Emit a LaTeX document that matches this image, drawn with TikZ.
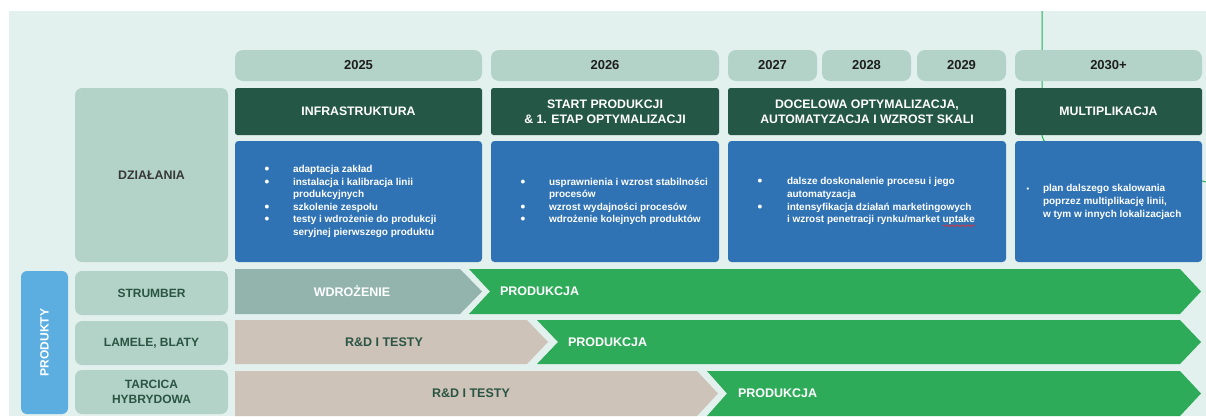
\documentclass[tikz,border=0pt]{standalone}
\usepackage{fontspec}
\setmainfont{Liberation Sans}
\usetikzlibrary{calc,decorations.pathmorphing}

\definecolor{bgc}{HTML}{E3F1EE}
\definecolor{yearc}{HTML}{B3D3C8}
\definecolor{darkc}{HTML}{255746}
\definecolor{bluec}{HTML}{2F73B5}
\definecolor{wdrc}{HTML}{92B4AC}
\definecolor{tanc}{HTML}{CEC3B8}
\definecolor{greenc}{HTML}{2EAB59}
\definecolor{linec}{HTML}{22B05A}
\definecolor{prodc}{HTML}{5DAEE0}
\definecolor{txtdark}{HTML}{2A5443}
\definecolor{yeartxt}{HTML}{1E1E1E}
\definecolor{dzialc}{HTML}{383838}
\definecolor{spellred}{HTML}{E03030}

% red wavy underline under a word
\newsavebox{\wavebox}
\newcommand{\spellwave}[1]{\sbox\wavebox{#1}\rlap{\usebox\wavebox}%
  \tikz[baseline=0pt,x=1pt,y=1pt]\draw[spellred, line width=0.6pt, decorate,
    decoration={snake, amplitude=0.9pt, segment length=3.2pt}]
    (0,-3) -- (\the\wd\wavebox,-3);}
% list bullets
\newcommand{\bigdot}{\raisebox{-1pt}{\fontsize{13.5}{13.5}\selectfont\textbullet}}
\newcommand{\smalldot}{{\fontsize{7.5}{7.5}\selectfont\textbullet}}

\tikzset{
  every node/.style={inner sep=0pt, outer sep=0pt},
  yearbox/.style={fill=yearc, rounded corners=8pt, minimum height=31pt, text=yeartxt,
    font=\fontsize{13}{15}\selectfont\bfseries},
  headbox/.style={fill=darkc, rounded corners=2.5pt, minimum height=47pt, text=white,
    align=center, font=\fontsize{12.3}{15}\selectfont\bfseries},
  bluebox/.style={fill=bluec, rounded corners=3.5pt, minimum height=121pt},
  rowlabel/.style={fill=yearc, rounded corners=7pt, minimum width=153pt, minimum height=44pt,
    text=txtdark, align=center, font=\fontsize{12}{15.5}\selectfont\bfseries},
  bullets/.style={anchor=west, text=white, align=left, font=\fontsize{10}{12.6}\selectfont\bfseries},
  barlabel/.style={font=\fontsize{12.5}{15}\selectfont\bfseries},
  lightlabel/.style={barlabel, text=white},
  darklabel/.style={barlabel, text=txtdark},
  guide/.style={draw=linec, line width=1pt},
}

\begin{document}
\begin{tikzpicture}[x=1pt,y=-1pt]
\useasboundingbox (0,0) rectangle (1206,416);
\fill[white] (0,0) rectangle (1206,416);
\fill[bgc] (9,11) rectangle (1206,416);

% thin guide line behind the boxes
\coordinate (g1) at (1042,11);
\coordinate (g2) at (1042,136);
\coordinate (g3) at (1044,141);
\coordinate (g4) at (1206,182);
\draw[guide] (g1) -- (g2) -- (g3) -- (g4);

% years
\node[yearbox, minimum width=247pt] (y2025) at (358.5,65.5) {2025};
\node[yearbox, minimum width=228pt] (y2026) at (605,65.5) {2026};
\node[yearbox, minimum width=89pt]  (y2027) at (772.5,65.5) {2027};
\node[yearbox, minimum width=89pt]  (y2028) at (866.5,65.5) {2028};
\node[yearbox, minimum width=89pt]  (y2029) at (961.5,65.5) {2029};
\node[yearbox, minimum width=187pt] (y2030) at (1108.5,65.5) {2030+};

% phase headers
\node[headbox, minimum width=247pt] (h1) at (358.5,111.5) {INFRASTRUKTURA};
\node[headbox, minimum width=228pt] (h2) at (605,111.5) {START PRODUKCJI\\\& 1. ETAP OPTYMALIZACJI};
\node[headbox, minimum width=278pt] (h3) at (867,111.5) {DOCELOWA OPTYMALIZACJA,\\AUTOMATYZACJA I WZROST SKALI};
\node[headbox, minimum width=187pt] (h4) at (1108.5,111.5) {MULTIPLIKACJA};

% activity boxes
\node[bluebox, minimum width=247pt] (b1) at (358.5,201.5) {};
\node[bluebox, minimum width=228pt] (b2) at (605,201.5) {};
\node[bluebox, minimum width=278pt] (b3) at (867,201.5) {};
\node[bluebox, minimum width=187pt] (b4) at (1108.5,201.5) {};

\node[bullets] (t1) at (264.5,201.5) {\begin{tabular}{@{}p{28.5pt}@{}l@{}}
\bigdot & adaptacja zakład\\
\bigdot & instalacja i kalibracja linii\\
 & produkcyjnych\\
\bigdot & szkolenie zespołu\\
\bigdot & testy i wdrożenie do produkcji\\
 & seryjnej pierwszego produktu
\end{tabular}};

\node[bullets] (t2) at (520.5,201.5) {\begin{tabular}{@{}p{28.5pt}@{}l@{}}
\bigdot & usprawnienia i wzrost stabilności\\
 & procesów\\
\bigdot & wzrost wydajności procesów\\
\bigdot & wdrożenie kolejnych produktów
\end{tabular}};

\node[bullets] (t3) at (757.5,201.5) {\begin{tabular}{@{}p{29.5pt}@{}l@{}}
\bigdot & dalsze doskonalenie procesu i jego\\
 & automatyzacja\\
\bigdot & intensyfikacja działań marketingowych\\
 & i wzrost penetracji rynku/market \spellwave{uptake}
\end{tabular}};

\node[bullets] (t4) at (1026.5,202) {\begin{tabular}{@{}p{16.5pt}@{}l@{}}
\smalldot & plan dalszego skalowania\\
 & poprzez multiplikację linii,\\
 & w tym w innych lokalizacjach
\end{tabular}};

% left column
\node[fill=yearc, rounded corners=7pt, minimum width=153pt, minimum height=174pt,
  text=dzialc, font=\fontsize{12.4}{15}\selectfont\bfseries] (dz) at (151.5,175) {DZIAŁANIA};
\node[fill=prodc, rounded corners=6pt, rotate=90, minimum width=143pt, minimum height=47pt,
  text=white, font=\fontsize{12}{15}\selectfont\bfseries] (prod) at (44.5,342.5) {PRODUKTY};
\node[rowlabel] (r1) at (151.5,293) {STRUMBER};
\node[rowlabel] (r2) at (151.5,343) {LAMELE, BLATY};
\node[rowlabel] (r3) at (151.5,392) {TARCICA\\HYBRYDOWA};

% product timelines
\fill[wdrc] (235,269) -- (460,269) -- (482,291.5) -- (460,314) -- (235,314) -- cycle;
\fill[greenc] (469,269) -- (1180,269) -- (1201,291.5) -- (1180,314) -- (469,314) -- (490,291.5) -- cycle;
\fill[tanc] (235,320) -- (527,320) -- (548,342) -- (527,364) -- (235,364) -- cycle;
\fill[greenc] (537,320) -- (1180,320) -- (1201,342) -- (1180,364) -- (537,364) -- (558,342) -- cycle;
\fill[tanc] (235,371) -- (697,371) -- (718,393.5) -- (697,416) -- (235,416) -- cycle;
\fill[greenc] (707,371) -- (1180,371) -- (1201,393.5) -- (1180,416) -- (707,416) -- (727,393.5) -- cycle;

\node[lightlabel] (a1) at (352,291.5) {WDROŻENIE};
\node[lightlabel, anchor=west] (a2) at (500,291.5) {PRODUKCJA};
\node[darklabel] (a3) at (384,342) {R\&D I TESTY};
\node[lightlabel, anchor=west] (a4) at (568,342) {PRODUKCJA};
\node[darklabel] (a5) at (471,393.5) {R\&D I TESTY};
\node[lightlabel, anchor=west] (a6) at (738,393.5) {PRODUKCJA};
\end{tikzpicture}
\end{document}
